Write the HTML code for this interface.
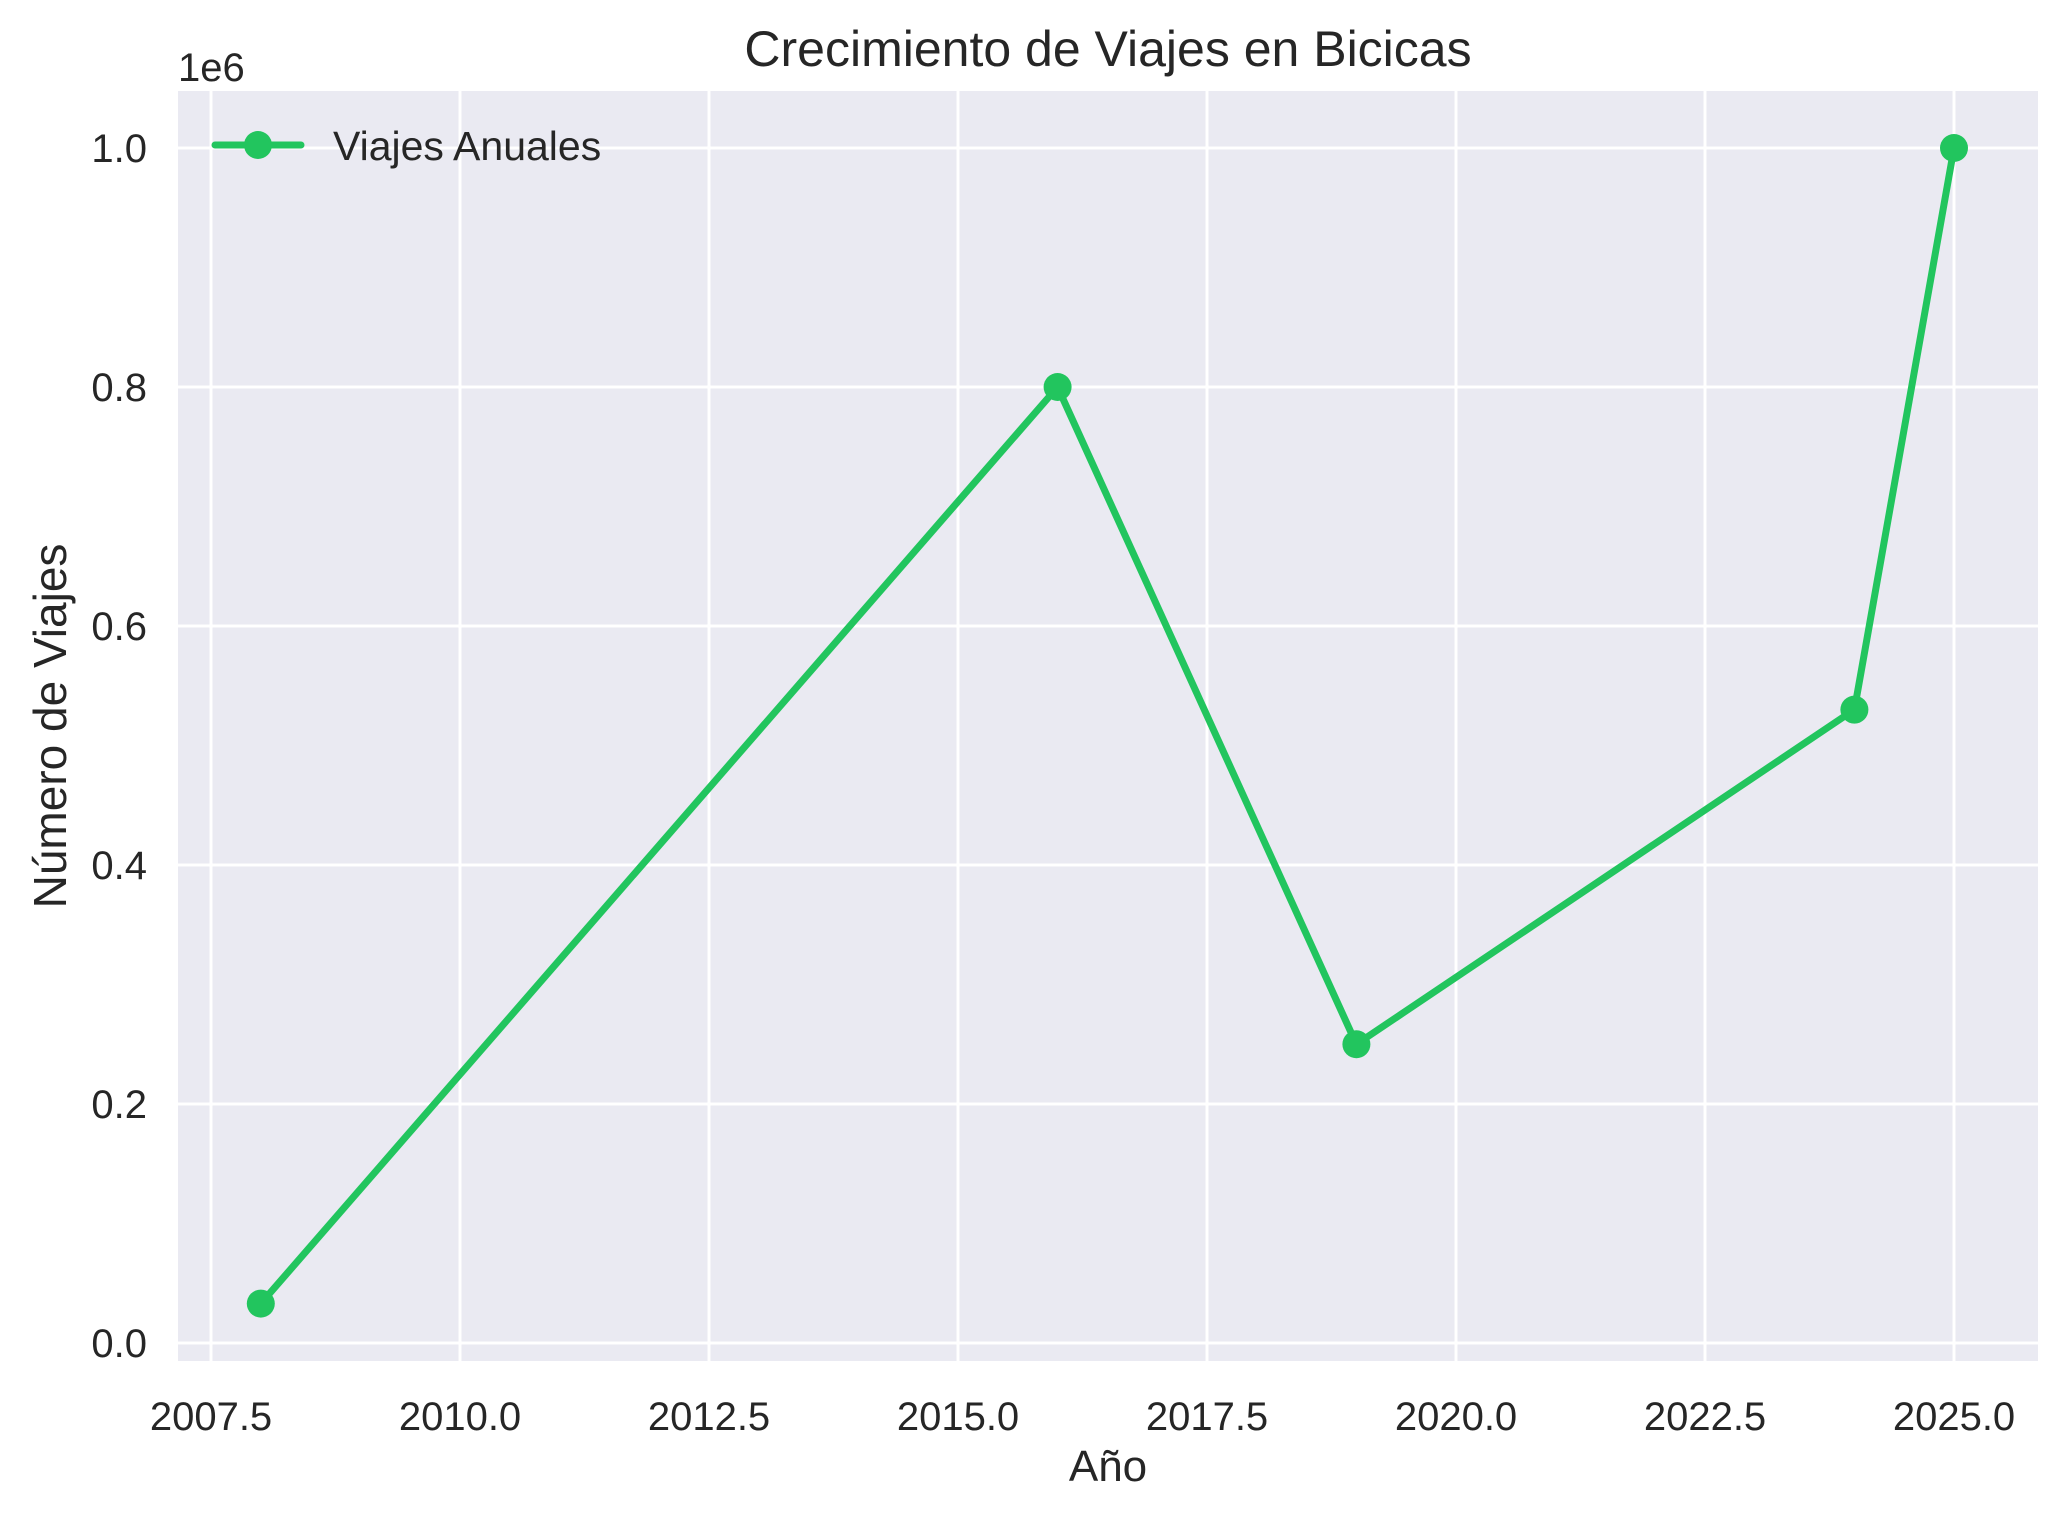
<!DOCTYPE html>
<html><head><meta charset="utf-8"><style>
body{margin:0;background:#fff}
text{font-family:"Liberation Sans",sans-serif;fill:#262626}
</style></head><body>
<svg id="chart" width="2068" height="1521" xmlns="http://www.w3.org/2000/svg">
<rect x="178" y="91" width="1860" height="1270" fill="#eaeaf2"/>
<g id="grid"></g><g id="ticks"></g><g id="series"></g>
<text x="1108" y="66" font-size="50" text-anchor="middle">Crecimiento de Viajes en Bicicas</text>
<text x="1108" y="1481" font-size="44" text-anchor="middle">Año</text>
<text transform="translate(66,726) rotate(-90)" font-size="46" text-anchor="middle">Número de Viajes</text>
<text x="178" y="81" font-size="40">1e6</text>
<g>
<line x1="215" y1="145" x2="301" y2="145" stroke="#22c55e" stroke-width="7" stroke-linecap="round"/>
<circle cx="258" cy="145" r="14" fill="#22c55e"/>
<text x="333" y="160" font-size="41">Viajes Anuales</text>
</g>
</svg>
<script>
const years=[2008,2016,2019,2024,2025];
const trips=[0.033,0.8,0.25,0.53,1.0];
const xTicks=[2007.5,2010.0,2012.5,2015.0,2017.5,2020.0,2022.5,2025.0];
const yTicks=[0.0,0.2,0.4,0.6,0.8,1.0];
const ns="http://www.w3.org/2000/svg";
const X=v=>1954-(2025-v)*99.6;
const Y=v=>1343-v*1195;
function mk(t,a,p){const e=document.createElementNS(ns,t);for(const k in a)e.setAttribute(k,a[k]);p.appendChild(e);return e;}
const grid=document.getElementById('grid'),ticks=document.getElementById('ticks'),ser=document.getElementById('series');
xTicks.forEach(v=>{
const l=mk('line',{x1:X(v),x2:X(v),y1:91,y2:1361,stroke:'#fff','stroke-width':3},grid);


const t=mk('text',{x:X(v),y:1430,'font-size':40,'text-anchor':'middle'},ticks);
t.textContent=v.toFixed(1);


});
yTicks.forEach(v=>{
const l=mk('line',{x1:178,x2:2038,y1:Y(v),y2:Y(v),stroke:'#fff','stroke-width':3},grid);


const t=mk('text',{x:147,y:Y(v)+14,'font-size':40,'text-anchor':'end'},ticks);
t.textContent=v.toFixed(1);


});
const pl=mk('polyline',{points:years.map((y,i)=>X(y)+','+Y(trips[i])).join(' '),fill:'none',stroke:'#22c55e','stroke-width':7,'stroke-linejoin':'round'},ser);


years.forEach((y,i)=>{
const c=mk('circle',{cx:X(y),cy:Y(trips[i]),r:14,fill:'#22c55e'},ser);


});
</script>
</body></html>
